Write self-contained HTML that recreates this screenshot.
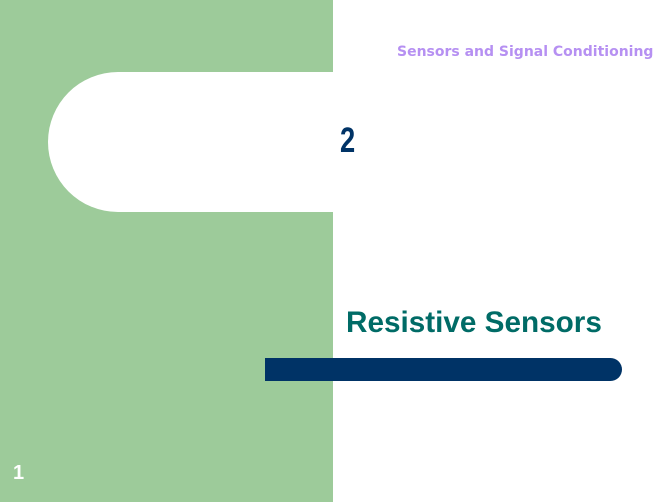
<!DOCTYPE html>
<html><head><style>
body{margin:0;width:668px;height:502px;position:relative;background:#fff;overflow:hidden;font-family:"Liberation Sans",sans-serif}
div{position:absolute}
</style></head><body>
<div style="left:0;top:0;width:333px;height:502px;background:#9dcb9a"></div>
<div style="left:48px;top:72px;width:285px;height:140px;background:#fff;border-radius:70px 0 0 70px"></div>
<div style="left:265px;top:358px;width:357px;height:23px;background:#003366;border-radius:0 12px 12px 0"></div>
<div style="left:397px;top:44px;font-size:14px;font-weight:bold;color:#b690f2;font-family:'DejaVu Sans',sans-serif;white-space:nowrap">Sensors and Signal Conditioning</div>
<div style="left:340px;top:121px;font-size:35px;font-weight:bold;color:#003366;transform:scaleX(0.78);transform-origin:left">2</div>
<div style="left:346px;top:306px;font-size:30px;font-weight:bold;color:#006b66;white-space:nowrap;transform:scaleX(0.99);transform-origin:left">Resistive Sensors</div>
<div style="left:13px;top:462px;font-size:20px;font-weight:bold;color:#fff">1</div>
</body></html>
